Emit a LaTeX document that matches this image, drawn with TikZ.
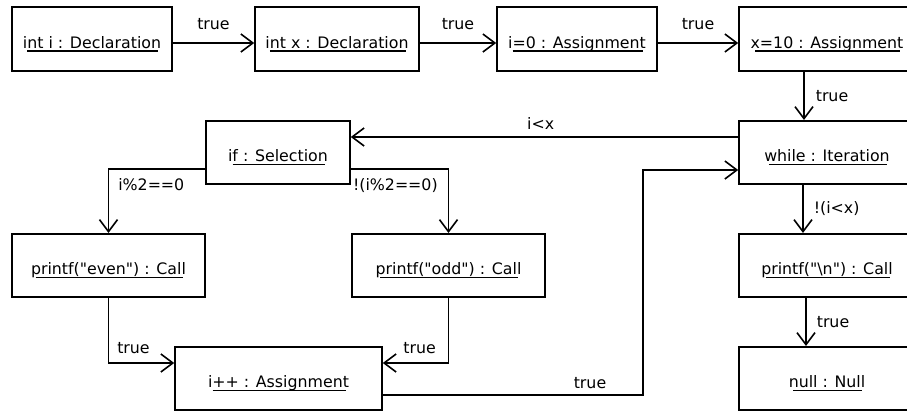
\documentclass[tikz,border=0pt]{standalone}
\usepackage{fontspec}
\setmainfont{DejaVu Sans}[Ligatures=TeXOff]
\usetikzlibrary{arrows.meta}
\newsavebox\ulbox
\newcommand\ulx[1]{\sbox\ulbox{#1}\rlap{\usebox\ulbox}\hspace*{4.5pt}\rule[-3.2pt]{\dimexpr\wd\ulbox-7.5pt\relax}{1.5pt}\hspace*{3pt}}
\begin{document}
\begin{tikzpicture}[x=1pt,y=1pt,font=\fontsize{15.8}{19}\selectfont,
  box/.style={draw, line width=1.6pt, minimum height=63.5pt, inner sep=0pt, text height=21pt, text depth=2.4pt},
  conn/.style={line width=1.6pt, -{Straight Barb[length=12pt,width=18pt]}},
  lbl/.style={inner sep=0pt}]
\useasboundingbox (0,0) rectangle (907,-410);
% nodes
\node[box, minimum width=160pt] (A) at (92,-39) {\ulx{int i : Declaration}};
\node[box, minimum width=164pt] (B) at (337,-39) {\ulx{int x : Declaration}};
\node[box, minimum width=160pt] (C) at (577,-39) {\ulx{i=0 : Assignment}};
\node[box, minimum width=176pt] (D) at (827,-39) {\ulx{x=10 : Assignment}};
\node[box, minimum width=144pt] (E) at (278,-152.5) {\ulx{if : Selection}};
\node[box, minimum width=176pt] (F) at (827,-152.5) {\ulx{while : Iteration}};
\node[box, minimum width=193pt] (G) at (108.5,-265.5) {\ulx{printf("even") : Call}};
\node[box, minimum width=193pt] (H) at (448.5,-265.5) {\ulx{printf("odd") : Call}};
\node[box, minimum width=176pt] (I) at (827,-265.5) {\ulx{printf("\textbackslash n") : Call}};
\node[box, minimum width=207pt] (J) at (278.5,-378.5) {\ulx{i++ : Assignment}};
\node[box, minimum width=176pt] (K) at (827,-378.5) {\ulx{null : Null}};
\coordinate (jc) at (643,-170);
% connectors
\draw[conn] ([yshift=-4pt]A.east) -- node[lbl,above=12pt] (l1) {true} ([yshift=-4pt]B.west);
\draw[conn] ([yshift=-4pt]B.east) -- node[lbl,above=12pt] (l2) {true} ([yshift=-4pt]C.west);
\draw[conn] ([yshift=-4pt]C.east) -- node[lbl,above=12pt] (l3) {true} ([yshift=-4pt]D.west);
\draw[conn] ([xshift=-23pt]D.south) -- node[lbl,right=11pt] (l4) {true} ([xshift=-23pt]F.north);
\draw[conn] ([yshift=15.5pt]F.west) -- node[lbl,above=7pt,pos=0.51] (l5) {i<x} ([yshift=15.5pt]E.east);
\draw[conn] ([yshift=-16.5pt]J.east) -| (jc) -- ([yshift=-17.5pt]F.west);
\node[lbl, anchor=base] (l6) at (590,-388) {true};
\draw[conn] ([yshift=-16.5pt]E.west) -| node[pos=0.5,lbl,anchor=north west,xshift=9pt,yshift=-9pt] (l7) {i\%2==0} (G.north);
\draw[conn] ([yshift=-16.5pt]E.east) -| node[pos=0.5,lbl,anchor=north east,xshift=-10pt,yshift=-9pt] (l8) {!(i\%2==0)} (H.north);
\draw[conn] (G.south) |- node[pos=0.69,lbl,above=8pt] (l9) {true} ([yshift=15.5pt]J.west);
\draw[conn] (H.south) |- node[pos=0.72,lbl,above=8pt] (l10) {true} ([yshift=15.5pt]J.east);
\draw[conn] ([xshift=-24pt]F.south) -- node[lbl,right=10pt] (l11) {!(i<x)} ([xshift=-24pt]I.north);
\draw[conn] ([xshift=-21pt]I.south) -- node[lbl,right=10pt] (l12) {true} ([xshift=-21pt]K.north);
\end{tikzpicture}
\end{document}
